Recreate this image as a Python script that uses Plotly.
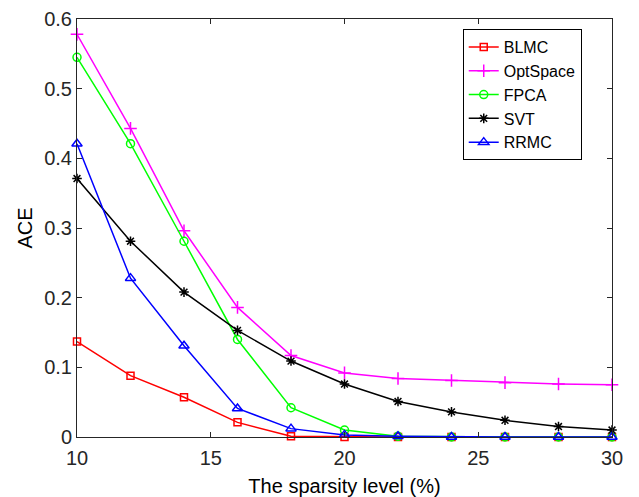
import plotly.graph_objects as go

sparsity = [10, 12, 14, 16, 18, 20, 22, 24, 26, 28, 30]
blmc = [0.137, 0.088, 0.057, 0.021, 0.001, 0.0, 0.0, 0.0, 0.0, 0.0, 0.0]
optspace = [0.578, 0.443, 0.296, 0.186, 0.117, 0.092, 0.084, 0.081, 0.078, 0.076, 0.075]
fpca = [0.545, 0.421, 0.281, 0.140, 0.042, 0.010, 0.001, 0.0, 0.0, 0.0, 0.0]
svt = [0.371, 0.281, 0.208, 0.153, 0.109, 0.076, 0.051, 0.036, 0.024, 0.015, 0.010]
rrmc = [0.421, 0.228, 0.131, 0.041, 0.012, 0.003, 0.001, 0.0, 0.0, 0.0, 0.0]

series = [
    ("BLMC", blmc, "#ff0000", "square-open", 7),
    ("OptSpace", optspace, "#ff00ff", "cross-thin-open", 9),
    ("FPCA", fpca, "#00ff00", "circle-open", 8),
    ("SVT", svt, "#000000", "asterisk-open", 8),
    ("RRMC", rrmc, "#0000ff", "triangle-up-open", 9),
]

fig = go.Figure()
for name, vals, col, sym, sz in series:
    fig.add_trace(go.Scatter(
        x=sparsity, y=vals, name=name, mode="lines+markers",
        line=dict(color=col, width=1.5),
        marker=dict(symbol=sym, size=sz, color=col, line=dict(color=col, width=1.5)),
        cliponaxis=False,
    ))

axis_common = dict(
    showline=True, linecolor="#262626", linewidth=1, mirror="ticks",
    ticks="inside", ticklen=5, tickcolor="#262626", showgrid=False, zeroline=False,
    automargin=False,
    tickfont=dict(family="Liberation Sans, Arial", size=20, color="#262626"),
)

fig.update_layout(
    width=639, height=497,
    margin=dict(l=77, r=27, t=19, b=60),
    paper_bgcolor="white", plot_bgcolor="white",
    xaxis=dict(range=[10, 30], tickvals=[10, 15, 20, 25, 30], ticklabelstandoff=3,
               title=dict(text="The sparsity level (%)", standoff=12,
                          font=dict(family="Liberation Sans, Arial", size=20, color="#000000")),
               **axis_common),
    yaxis=dict(range=[0, 0.6], tickvals=[0, 0.1, 0.2, 0.3, 0.4, 0.5, 0.6],
               ticktext=["0", "0.1", "0.2", "0.3", "0.4", "0.5", "0.6"],
               title=dict(text="ACE", standoff=6,
                          font=dict(family="Liberation Sans, Arial", size=20, color="#000000")),
               **axis_common),
    legend=dict(x=0.721, y=0.976, xanchor="left", yanchor="top",
                bordercolor="#000000", borderwidth=1, bgcolor="white",
                font=dict(family="Liberation Sans, Arial", size=16, color="#000000"),
                tracegroupgap=0, itemwidth=30),
    showlegend=True,
)

fig.write_html("out.html")
